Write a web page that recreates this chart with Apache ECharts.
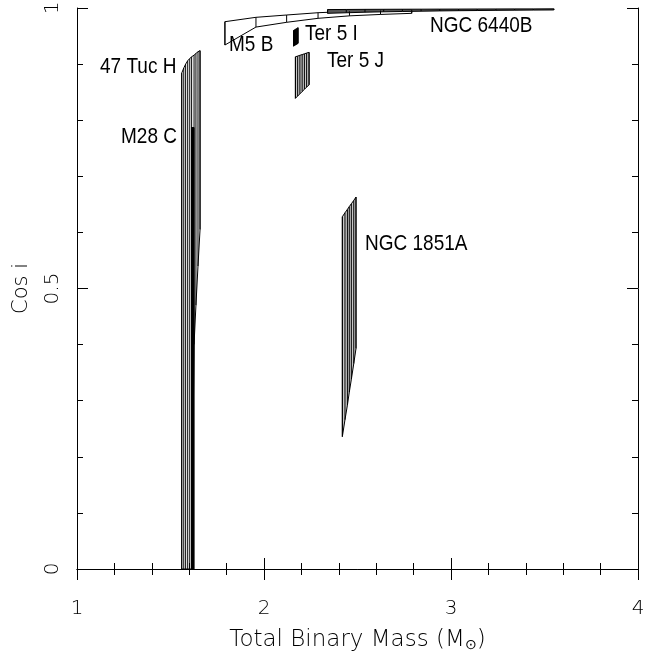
<!DOCTYPE html>
<html><head><meta charset="utf-8">
<script src="https://cdn.jsdelivr.net/npm/echarts@6/dist/echarts.min.js"></script>
<style>html,body{margin:0;padding:0;background:#fff}#c{width:645px;height:651px}</style>
</head><body><div id="c"></div>
<script>
// axis
const xMin = 1, xMax = 4, xStep = 1;
const yMin = 0, yMax = 1, yStep = 0.5;

// 47 Tuc H hatch lines: total mass, cos i top / bottom
const tucH_mass = [1.560,1.571,1.581,1.592,1.603,1.613,1.626,1.636,1.647,1.658];
const tucH_top  = [0.884,0.893,0.900,0.906,0.910,0.913,0.916,0.919,0.922,0.924];
const tucH_bot  = [0,0,0,0,0,0,0.40,0.47,0.54,0.605];
// M28 C
const m28c_mass = [1.613,1.616,1.619,1.622,1.625];
const m28c_top  = [0.787,0.787,0.787,0.787,0.787];
const m28c_bot  = [0,0,0,0,0];
// M5 B
const m5b_mass = [1.791,1.957,2.121,2.289,2.457,2.623,2.790];
const m5b_top  = [0.9756,0.9834,0.9875,0.9916,0.9940,0.9955,0.9965];
const m5b_bot  = [0.934,0.966,0.9745,0.9816,0.9860,0.9885,0.9905];
// NGC 6440B
const n6440_mass = [2.34,2.44,2.54,2.64,2.74,2.84,2.94,3.04,3.14,3.24,3.34,3.44,3.55];
const n6440_top  = [0.9972,0.9974,0.9976,0.9977,0.9978,0.9979,0.9980,0.9981,0.9982,0.9983,0.9984,0.9984,0.9985];
const n6440_bot  = [0.9905,0.9915,0.9925,0.9932,0.9938,0.9943,0.9948,0.9952,0.9955,0.9958,0.9961,0.9963,0.9965];
// Ter 5 I
const t5i_mass = [2.158,2.163,2.168,2.173,2.178,2.182];
const t5i_top  = [0.960,0.961,0.962,0.963,0.964,0.965];
const t5i_bot  = [0.932,0.933,0.934,0.935,0.936,0.937];
// Ter 5 J
const t5j_mass = [2.168,2.180,2.192,2.204,2.216,2.228,2.241];
const t5j_top  = [0.913,0.9143,0.9157,0.917,0.9183,0.9197,0.921];
const t5j_bot  = [0.839,0.843,0.847,0.851,0.855,0.859,0.863];
// NGC 1851A
const n1851_mass = [2.419,2.433,2.446,2.456,2.467,2.480,2.492];
const n1851_top  = [0.628,0.635,0.641,0.646,0.651,0.657,0.663];
const n1851_bot  = [0.236,0.266,0.292,0.315,0.338,0.366,0.393];

// labels
const labelTexts = ['47 Tuc H','M28 C','M5 B','Ter 5 I','Ter 5 J','NGC 6440B','NGC 1851A'];
const labelPos = [[100,67],[121,137],[229,45],[305,34],[327,61],[430,26],[365,244]];

function hatch(mass, top, bot, color, width) {
  return {type:'custom', coordinateSystem:'cartesian2d', silent:true, z:4,
    data: mass.map((m,i)=>[m, bot[i], top[i]]),
    encode:{x:0,y:[1,2]},
    renderItem(params, api){
      const a = api.coord([api.value(0), api.value(1)]);
      const b = api.coord([api.value(0), api.value(2)]);
      return {type:'line', shape:{x1:a[0],y1:a[1],x2:b[0],y2:b[1]},
        style:{stroke:color, lineWidth:width}};
    }};
}
function outline(mass, top, bot, fill) {
  return {type:'custom', coordinateSystem:'cartesian2d', silent:true, z:3,
    data:[[mass[0], top[0]]],
    encode:{x:0,y:1},
    renderItem(params, api){
      const pts=[];
      for (let i=0;i<mass.length;i++) pts.push(api.coord([mass[i], top[i]]));
      for (let i=mass.length-1;i>=0;i--) pts.push(api.coord([mass[i], bot[i]]));
      return {type:'polygon', shape:{points:pts},
        style:{fill: fill || 'none', stroke:'#000', lineWidth:1}};
    }};
}

const tickFont = {fontFamily:'DejaVu Sans', fontWeight:200, fontSize:20, color:'#000'};
const axisCommon = {
  axisLine:{show:true, lineStyle:{color:'#000', width:1}},
  axisTick:{show:true, inside:true, length:11, lineStyle:{color:'#000', width:1}},
  minorTick:{show:true, splitNumber:5, length:6, lineStyle:{color:'#000', width:1}},
  splitLine:{show:false}, minorSplitLine:{show:false}
};

const chart = echarts.init(document.getElementById('c'), null, {renderer:'canvas'});
chart.setOption({
  animation:false,
  backgroundColor:'#fff',
  grid:{left:77, right:7, top:8, bottom:82, containLabel:false, outerBoundsMode:'none'},
  xAxis:[
    Object.assign({type:'value', position:'bottom', min:xMin, max:xMax, interval:xStep,
      axisLabel:Object.assign({margin:30, showMinLabel:true, showMaxLabel:true}, tickFont),
      name:'{a|Total Binary Mass (M}{s|⊙}{a|)}', nameLocation:'middle', nameGap:49,
      nameTextStyle:{rich:{
        a:{fontFamily:'DejaVu Sans', fontWeight:200, fontSize:23, lineHeight:28, color:'#000', verticalAlign:'bottom'},
        s:{fontFamily:'DejaVu Sans', fontWeight:200, fontSize:14, lineHeight:14, padding:[14,0,0,0], color:'#000', verticalAlign:'bottom'}
      }}}, axisCommon),
    Object.assign({type:'value', position:'top', min:xMin, max:xMax, interval:xStep,
      axisLabel:{show:false}}, axisCommon)
  ],
  yAxis:[
    Object.assign({type:'value', position:'left', min:yMin, max:yMax, interval:yStep,
      axisLabel:Object.assign({margin:14, rotate:90, showMinLabel:true, showMaxLabel:true}, tickFont),
      name:'Cos i', nameLocation:'middle', nameRotate:90, nameGap:45,
      nameTextStyle:Object.assign({}, tickFont, {fontSize:21})}, axisCommon),
    Object.assign({type:'value', position:'right', min:yMin, max:yMax, interval:yStep,
      axisLabel:{show:false}}, axisCommon)
  ],
  series:[
    outline(tucH_mass, tucH_top, tucH_bot, null),
    hatch(tucH_mass, tucH_top, tucH_bot, '#000', 1),
    outline(m28c_mass, m28c_top, m28c_bot, '#000'),
    hatch(m28c_mass, m28c_top, m28c_bot, '#000', 1),
    outline(m5b_mass, m5b_top, m5b_bot, null),
    hatch(m5b_mass, m5b_top, m5b_bot, '#000', 1),
    outline(n6440_mass, n6440_top, n6440_bot, '#555'),
    hatch(n6440_mass, n6440_top, n6440_bot, '#000', 1),
    outline(t5i_mass, t5i_top, t5i_bot, '#333'),
    hatch(t5i_mass, t5i_top, t5i_bot, '#000', 1),
    outline(t5j_mass, t5j_top, t5j_bot, '#c8c8c8'),
    hatch(t5j_mass, t5j_top, t5j_bot, '#000', 1),
    outline(n1851_mass, n1851_top, n1851_bot, '#c8c8c8'),
    hatch(n1851_mass, n1851_top, n1851_bot, '#000', 1)
  ],
  graphic: labelTexts.map((t,i)=>({type:'text', x:labelPos[i][0], y:labelPos[i][1], z:10, scaleY:1.12,
    style:{text:t, fontFamily:'Liberation Sans, Arial, sans-serif', fontSize:19, fill:'#000', verticalAlign:'middle', align:'left'}}))
});
</script>
</body></html>
